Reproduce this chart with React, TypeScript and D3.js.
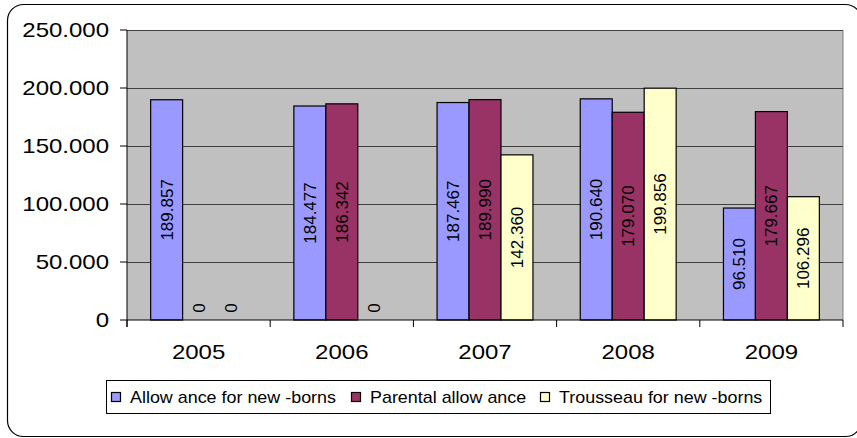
import * as d3 from 'd3';

const years = ['2005', '2006', '2007', '2008', '2009'];
const seriesNames = ['Allow ance for new -borns', 'Parental allow ance', 'Trousseau for new -borns'];
const newbornAllowance = [189857, 184477, 187467, 190640, 96510];
const parentalAllowance = [0, 186342, 189990, 179070, 179667];
const trousseau = [0, 0, 142360, 199856, 106296];
const yTicks = [0, 50000, 100000, 150000, 200000, 250000];
const colors = ['#9999FF', '#993366', '#FFFFCC'];

const W = 857;
const H = 438;
const plot = { left: 127, right: 843, top: 30, bottom: 320 };
const legendX = [111, 351, 540];
const FONT = "'Liberation Sans', Arial, sans-serif";

// 189.857 style
const fmt = (v: number) => {
  if (v === 0) return '0';
  const s = Math.round(v).toString();
  return s.replace(/\B(?=(\d{3})+(?!\d))/g, '.');
};

const App = () => {
  const series = [newbornAllowance, parentalAllowance, trousseau];

  const x0 = d3.scaleBand().domain(years).range([plot.left, plot.right]);
  const x1 = d3
    .scaleBand()
    .domain(seriesNames)
    .range([0, x0.bandwidth()])
    .paddingOuter(0.74)
    .paddingInner(0);
  const y = d3.scaleLinear().domain([0, 250000]).range([plot.bottom, plot.top]);

  const boundaries = years.map((yr) => x0(yr) as number).concat([plot.right]);

  return (
    <svg
      width={W}
      height={H}
      style={{ position: 'absolute', left: 0, top: 0, background: '#fff' }}
      fontFamily={FONT}
    >
      <rect x={7.5} y={4.5} width={854} height={432} rx={16} fill="#fff" stroke="#000" strokeWidth={1.2} />

      <rect
        x={plot.left}
        y={plot.top}
        width={plot.right - plot.left}
        height={plot.bottom - plot.top}
        fill="#C0C0C0"
      />
      <line x1={plot.right} x2={plot.right} y1={plot.top} y2={plot.bottom} stroke="#808080" />

      {yTicks.slice(1).map((t) => (
        <line
          key={'g' + t}
          x1={plot.left}
          x2={plot.right}
          y1={Math.round(y(t)) + 0.5}
          y2={Math.round(y(t)) + 0.5}
          stroke="#404040"
        />
      ))}

      {series.map((vals, si) =>
        vals.map((v, i) => {
          const bx = (x0(years[i]) as number) + (x1(seriesNames[si]) as number);
          const bw = x1.bandwidth();
          return v > 0 ? (
            <rect
              key={`b${si}-${i}`}
              x={bx}
              y={y(v)}
              width={bw}
              height={y(0) - y(v)}
              fill={colors[si]}
              stroke="#000"
              strokeWidth={1.2}
            />
          ) : null;
        })
      )}

      {series.map((vals, si) =>
        vals.map((v, i) => {
          const cx = (x0(years[i]) as number) + (x1(seriesNames[si]) as number) + x1.bandwidth() / 2;
          const cy = v > 0 ? (y(v) + y(0)) / 2 : y(0) - 12;
          return (
            <text
              key={`l${si}-${i}`}
              transform={`translate(${cx},${cy}) rotate(-90)`}
              textAnchor="middle"
              dy="0.35em"
              fontSize={17}
              fill="#000"
            >
              {fmt(v)}
            </text>
          );
        })
      )}

      {/* axes */}
      <line x1={plot.left} x2={plot.left} y1={plot.top} y2={plot.bottom + 7} stroke="#000" />
      <line x1={plot.left} x2={plot.right} y1={plot.bottom} y2={plot.bottom} stroke="#000" />
      {yTicks.map((t) => (
        <g key={'yt' + t}>
          <line x1={plot.left - 7} x2={plot.left} y1={y(t)} y2={y(t)} stroke="#000" />
          <text
            transform={`translate(109,${y(t)}) scale(1.2,1)`}
            textAnchor="end"
            dy="0.35em"
            fontSize={20}
            fill="#000"
          >
            {fmt(t)}
          </text>
        </g>
      ))}
      {boundaries.map((bx, i) => (
        <line key={'xt' + i} x1={bx} x2={bx} y1={plot.bottom} y2={plot.bottom + 7} stroke="#000" />
      ))}
      {years.map((yr) => (
        <text
          key={'xl' + yr}
          transform={`translate(${(x0(yr) as number) + x0.bandwidth() / 2},352) scale(1.2,1)`}
          textAnchor="middle"
          dy="0.35em"
          fontSize={20}
          fill="#000"
        >
          {yr}
        </text>
      ))}

      {/* legend */}
      <rect x={106.5} y={380.5} width={664} height={33} fill="#fff" stroke="#000" />
      {seriesNames.map((name, si) => (
        <g key={'lg' + si}>
          <rect x={legendX[si] + 0.5} y={392.5} width={9} height={9} fill={colors[si]} stroke="#000" strokeWidth={1.2} />
          <text transform={`translate(${legendX[si] + 19},403) scale(1.12,1)`} fontSize={16} fill="#000">
            {name}
          </text>
        </g>
      ))}
    </svg>
  );
};

export default App;
